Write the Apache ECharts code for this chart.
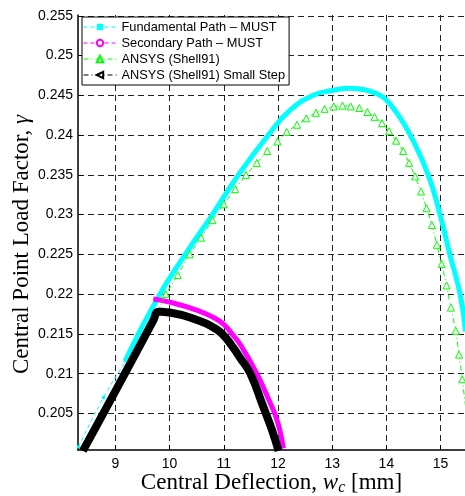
<!DOCTYPE html>
<html>
<head>
<meta charset="utf-8">
<script src="https://cdn.jsdelivr.net/npm/echarts@6/dist/echarts.min.js"></script>
<style>
  html, body { margin: 0; padding: 0; background: #fff; }
  #chart { width: 465px; height: 496px; }
</style>
</head>
<body>
<div id="chart"></div>
<script>
// Fundamental path (MUST): central deflection [mm] vs load factor
const fundamentalX = [8.32, 8.78, 9.18, 9.77, 10.29, 10.79, 11.27, 11.82, 12.22, 12.65, 13.00, 13.33, 13.60, 13.88, 14.00, 14.20, 14.44, 14.77, 14.99, 15.17, 15.36, 15.46];
const fundamentalY = [0.2008, 0.2070, 0.2116, 0.2194, 0.2250, 0.2300, 0.2350, 0.2400, 0.2431, 0.2450, 0.2456, 0.2459, 0.2457, 0.2450, 0.2444, 0.2427, 0.2400, 0.2350, 0.2300, 0.2250, 0.2200, 0.2153];
// index where the dense (small increment) part of the fundamental path begins
const fundamentalDenseFrom = 2;

// Secondary (bifurcated) path (MUST)
const secondaryX = [9.70, 10.00, 10.50, 10.80, 11.00, 11.15, 11.30, 11.61, 11.85, 11.95, 12.03, 12.10];
const secondaryY = [0.2194, 0.2190, 0.2180, 0.2171, 0.2162, 0.2150, 0.2137, 0.2100, 0.2064, 0.2048, 0.2030, 0.2006];

// ANSYS Shell91 solution
const ansysX = [9.77, 9.93, 10.15, 10.37, 10.58, 10.79, 11.00, 11.21, 11.41, 11.61, 11.80, 11.99, 12.16, 12.35, 12.52, 12.70, 12.86, 13.03, 13.19, 13.34, 13.50, 13.65, 13.78, 13.92, 14.05, 14.18, 14.31, 14.42, 14.53, 14.64, 14.74, 14.84, 14.93, 15.02, 15.11, 15.19, 15.28, 15.34, 15.40, 15.47];
const ansysY = [0.2178, 0.2200, 0.2224, 0.2250, 0.2271, 0.2293, 0.2313, 0.2332, 0.2350, 0.2365, 0.2380, 0.2392, 0.2404, 0.2413, 0.2421, 0.2428, 0.2433, 0.2436, 0.2437, 0.2436, 0.2434, 0.2429, 0.2423, 0.2415, 0.2405, 0.2393, 0.2380, 0.2365, 0.2348, 0.2329, 0.2308, 0.2287, 0.2262, 0.2238, 0.2211, 0.2183, 0.2154, 0.2124, 0.2093, 0.2053];

// ANSYS Shell91 with small load steps
const smallStepX = [8.40, 9.00, 9.70, 9.79, 9.90, 10.00, 10.57, 10.81, 10.97, 11.15, 11.30, 11.49, 11.73, 11.89, 12.01];
const smallStepY = [0.2003, 0.2078, 0.2167, 0.2178, 0.21775, 0.2177, 0.2166, 0.2158, 0.2150, 0.2135, 0.2120, 0.2100, 0.2058, 0.2029, 0.2003];

// Axis tick labels
const xTickValues = [9, 10, 11, 12, 13, 14, 15];
const yTickValues = [0.205, 0.21, 0.215, 0.22, 0.225, 0.23, 0.235, 0.24, 0.245, 0.25, 0.255];

const seriesNames = [
  'Fundamental Path \u2013 MUST',
  'Secondary Path \u2013 MUST',
  'ANSYS (Shell91)',
  'ANSYS (Shell91) Small Step'
];

const zip = (xs, ys) => xs.map((x, i) => [x, ys[i]]);

const labelFont = 'Liberation Sans, Arial, sans-serif';
const titleFont = 'Liberation Serif, Times New Roman, serif';

const chart = echarts.init(document.getElementById('chart'), null, { renderer: 'canvas' });

const gridLine = { show: true, lineStyle: { color: '#222', width: 1, type: [6, 4] } };

chart.setOption({
  animation: false,
  backgroundColor: '#fff',
  grid: { left: 78, right: 0, top: 15, bottom: 46, containLabel: false, outerBoundsMode: 'none' },
  legend: {
    orient: 'vertical',
    left: 82,
    top: 17,
    padding: [3, 4, 3, 1],
    itemWidth: 33,
    itemHeight: 8,
    itemGap: 2,
    backgroundColor: '#fff',
    borderColor: '#000',
    borderWidth: 1,
    borderRadius: 0,
    textStyle: { fontFamily: labelFont, fontSize: 12.8, lineHeight: 14, color: '#000' },
    data: [
      { name: seriesNames[0], lineStyle: { width: 1, type: [4, 3], color: '#00ffff' } },
      { name: seriesNames[1], lineStyle: { width: 1, type: [4, 3], color: '#ff00ff' } },
      { name: seriesNames[2], lineStyle: { width: 1, type: [5, 3, 1, 3], color: '#00ff00' } },
      { name: seriesNames[3], lineStyle: { width: 1, type: [5, 3, 1, 3], color: '#000' } }
    ]
  },
  xAxis: {
    type: 'value',
    min: 8.31,
    max: 15.45,
    splitNumber: 7,
    minInterval: 1,
    maxInterval: 1,
    name: 'Central Deflection, {i|w}{s|c} [mm]',
    nameLocation: 'middle',
    nameGap: 20,
    nameMoveOverlap: false,
    nameTextStyle: {
      fontFamily: titleFont, fontSize: 23, color: '#000',
      rich: {
        i: { fontFamily: titleFont, fontSize: 23, fontStyle: 'italic', color: '#000' },
        s: { fontFamily: titleFont, fontSize: 16, fontStyle: 'italic', color: '#000', padding: [10, 0, 0, 0] }
      }
    },
    axisLine: { show: true, onZero: false, lineStyle: { color: '#000', width: 1.5 } },
    axisTick: { show: true, inside: true, length: 5, customValues: xTickValues, lineStyle: { color: '#000', width: 1 } },
    axisLabel: {
      customValues: xTickValues,
      margin: 7,
      fontFamily: labelFont, fontSize: 14, color: '#000'
    },
    splitLine: gridLine
  },
  yAxis: {
    type: 'value',
    min: 0.2004,
    max: 0.2551,
    splitNumber: 11,
    minInterval: 0.005,
    maxInterval: 0.005,
    name: 'Central Point Load Factor, {g|\u03b3}',
    nameLocation: 'middle',
    nameGap: 45,
    nameMoveOverlap: false,
    nameTextStyle: {
      fontFamily: titleFont, fontSize: 23, color: '#000',
      padding: [0, 24, 0, 0],
      rich: {
        g: { fontFamily: titleFont, fontSize: 23, fontStyle: 'italic', color: '#000' }
      }
    },
    axisLine: { show: true, onZero: false, lineStyle: { color: '#000', width: 1.5 } },
    axisTick: { show: true, inside: true, length: 5, customValues: yTickValues, lineStyle: { color: '#000', width: 1 } },
    axisLabel: {
      customValues: yTickValues,
      margin: 5,
      fontFamily: labelFont, fontSize: 14, color: '#000',
      formatter: v => String(parseFloat(v.toFixed(3)))
    },
    splitLine: gridLine
  },
  series: [
    {
      // sparse start of the fundamental path: thin dashed line with square markers
      name: seriesNames[0],
      type: 'line',
      data: zip(fundamentalX, fundamentalY),
      symbol: 'rect',
      symbolSize: 3,
      showSymbol: true,
      smooth: 0.5,
      itemStyle: { color: '#00ffff' },
      lineStyle: { color: '#00ffff', width: 1, type: [4, 3] },
      clip: true,
      z: 2
    },
    {
      // dense part of the fundamental path
      name: seriesNames[0],
      type: 'line',
      data: zip(fundamentalX, fundamentalY).slice(fundamentalDenseFrom),
      symbol: 'rect',
      showSymbol: false,
      smooth: 0.5,
      itemStyle: { color: '#00ffff' },
      lineStyle: { color: '#00ffff', width: 5 },
      clip: true,
      z: 2
    },
    {
      name: seriesNames[1],
      type: 'line',
      data: zip(secondaryX, secondaryY),
      symbol: 'circle',
      showSymbol: false,
      smooth: 0.5,
      itemStyle: { color: '#fff', borderColor: '#ff00ff', borderWidth: 1 },
      lineStyle: { color: '#ff00ff', width: 5 },
      clip: true,
      z: 3
    },
    {
      name: seriesNames[2],
      type: 'line',
      data: zip(ansysX, ansysY),
      symbol: 'triangle',
      symbolSize: 7,
      showSymbol: true,
      itemStyle: { color: '#fff', borderColor: '#00ff00', borderWidth: 1 },
      lineStyle: { color: '#00ff00', width: 1, type: [5, 3, 1, 3] },
      clip: true,
      z: 4
    },
    {
      name: seriesNames[3],
      type: 'line',
      data: zip(smallStepX, smallStepY),
      symbol: 'triangle',
      symbolRotate: 90,
      showSymbol: false,
      smooth: 0.5,
      itemStyle: { color: '#fff', borderColor: '#000', borderWidth: 1 },
      lineStyle: { color: '#000', width: 8, join: 'miter' },
      clip: true,
      z: 5
    }
  ]
});
</script>
</body>
</html>
